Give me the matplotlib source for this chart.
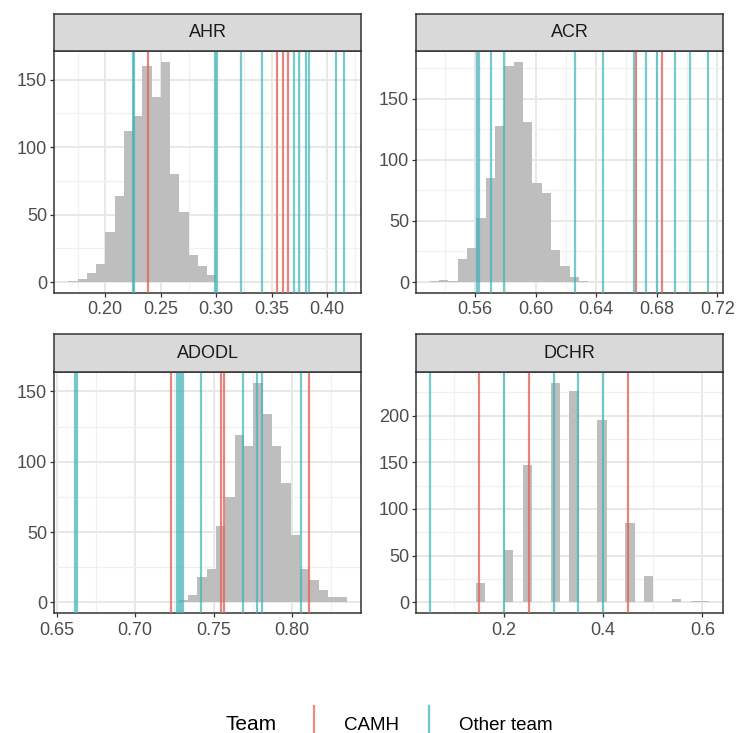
import matplotlib
matplotlib.use("Agg")
import matplotlib.pyplot as plt
import numpy as np
from matplotlib.lines import Line2D
from matplotlib.ticker import MultipleLocator, FormatStrFormatter

plt.rcParams['font.family'] = ['Liberation Sans', 'DejaVu Sans']

# ---- data ----
panels = ["AHR", "ACR", "ADODL", "DCHR"]

ahr_start, ahr_width = 0.16667, 0.008333
ahr_counts = [1, 2, 7, 13, 37, 64, 112, 123, 160, 137, 163, 80, 52, 20, 12, 5]
ahr_camh = [0.2381, 0.355, 0.360, 0.3645]
ahr_other = [0.2246, 0.2259, 0.2985, 0.3005, 0.3219, 0.3408, 0.370, 0.3741,
             0.3812, 0.3835, 0.4075, 0.415]

acr_start, acr_width = 0.5301, 0.006154
acr_counts = [1, 2, 1, 19, 28, 52, 85, 128, 177, 180, 131, 81, 73, 26, 13, 4, 1]
acr_camh = [0.6665, 0.6837]
acr_other = [0.5612, 0.5628, 0.5707, 0.5795, 0.6262, 0.6445, 0.6648, 0.6727,
             0.6799, 0.6920, 0.7022, 0.7136]

adodl_start, adodl_width = 0.7277, 0.005949
adodl_counts = [2, 5, 18, 24, 54, 75, 119, 111, 156, 134, 111, 85, 48, 24, 16, 9, 4, 4]
adodl_camh = [0.7231, 0.7547, 0.7565, 0.8110]
adodl_other = [0.6615, 0.6628, 0.7265, 0.7280, 0.7295, 0.7308, 0.7418, 0.7688,
               0.7779, 0.7807, 0.8057]

dchr_start, dchr_width = 0.1435, 0.01883
dchr_counts = [21, 0, 0, 56, 0, 147, 0, 0, 235, 0, 226, 0, 0, 195, 0, 0, 85, 0,
               28, 0, 0, 4, 0, 1, 1]
dchr_camh = [0.15, 0.25, 0.45]
dchr_other = [0.05, 0.2, 0.3, 0.35, 0.4]

data = {
    "AHR": (ahr_start, ahr_width, ahr_counts, ahr_camh, ahr_other),
    "ACR": (acr_start, acr_width, acr_counts, acr_camh, acr_other),
    "ADODL": (adodl_start, adodl_width, adodl_counts, adodl_camh, adodl_other),
    "DCHR": (dchr_start, dchr_width, dchr_counts, dchr_camh, dchr_other),
}

# ---- axis settings ----
settings = {
    "AHR": dict(xlim=(0.1538, 0.4304), xstep=0.05, fmt="%.2f", ystep=50),
    "ACR": dict(xlim=(0.5211, 0.7237), xstep=0.04, fmt="%.2f", ystep=50),
    "ADODL": dict(xlim=(0.6483, 0.8440), xstep=0.05, fmt="%.2f", ystep=50),
    "DCHR": dict(xlim=(0.0226, 0.6415), xstep=0.2, fmt="%.1f", ystep=50),
}

W, H = 739, 733
boxes = {  # left, right, strip top, strip bottom, axis bottom (pixels)
    "AHR": (54, 361, 14, 51, 293),
    "ACR": (416, 723, 14, 51, 293),
    "ADODL": (54, 361, 334, 372, 613.3),
    "DCHR": (416, 723, 334, 372, 613.3),
}

RED = "#E0675E"
TEAL = "#3FB3B6"
GREY20 = "#333333"

fig = plt.figure(figsize=(W / 100, H / 100), dpi=100)

for name in panels:
    start, width, counts, camh, other = data[name]
    s = settings[name]
    l, r, st, sb, ab = boxes[name]

    ax = fig.add_axes([l / W, 1 - ab / H, (r - l) / W, (ab - sb) / H])
    edges = start + width * np.arange(len(counts))
    ax.bar(edges, counts, width=width, align="edge", color="#BEBEBE",
           linewidth=0, zorder=2)
    for v in other:
        ax.axvline(v, color=TEAL, lw=1.6, alpha=0.7, zorder=3)
    for v in camh:
        ax.axvline(v, color=RED, lw=1.6, alpha=0.8, zorder=3)

    ymax = max(counts)
    ax.set_ylim(-0.05 * ymax, 1.05 * ymax)
    ax.set_xlim(*s["xlim"])

    ax.xaxis.set_major_locator(MultipleLocator(s["xstep"]))
    ax.xaxis.set_minor_locator(MultipleLocator(s["xstep"] / 2))
    ax.xaxis.set_major_formatter(FormatStrFormatter(s["fmt"]))
    ax.yaxis.set_major_locator(MultipleLocator(s["ystep"]))
    ax.yaxis.set_minor_locator(MultipleLocator(s["ystep"] / 2))

    ax.set_axisbelow(True)
    ax.grid(which="major", color="#E8E8E8", lw=1.4)
    ax.grid(which="minor", color="#F0F0F0", lw=0.9)
    ax.tick_params(which="major", length=3, width=0.9, color=GREY20,
                   labelcolor="#4D4D4D", labelsize=13)
    ax.tick_params(axis="x", pad=3)
    ax.tick_params(axis="y", pad=2)
    ax.tick_params(which="minor", length=0)
    for sp in ax.spines.values():
        sp.set_color(GREY20)
        sp.set_linewidth(1.1)

    # facet strip
    sax = fig.add_axes([l / W, 1 - sb / H, (r - l) / W, (sb - st) / H])
    sax.set_facecolor("#D9D9D9")
    sax.set_xticks([])
    sax.set_yticks([])
    for sp in sax.spines.values():
        sp.set_color(GREY20)
        sp.set_linewidth(1.1)
    sax.text(0.5, 0.5, name, ha="center", va="center", fontsize=13,
             color="#1A1A1A", transform=sax.transAxes)

# ---- legend (bottom of the figure) ----
base_y = (H - 729.5) / H
fig.text(225 / W, base_y, "Team", fontsize=15, color="black", va="baseline")
keys = [("CAMH", RED, 314.3, 344.3), ("Other team", TEAL, 429.0, 459.3)]
for label, col, kx, tx in keys:
    fig.add_artist(Line2D([kx / W, kx / W], [0, (H - 706) / H], color=col,
                          lw=1.6, alpha=0.75, transform=fig.transFigure))
    fig.text(tx / W, base_y, label, fontsize=13.5, color="black", va="baseline")

fig.savefig("out.png", dpi=100)
